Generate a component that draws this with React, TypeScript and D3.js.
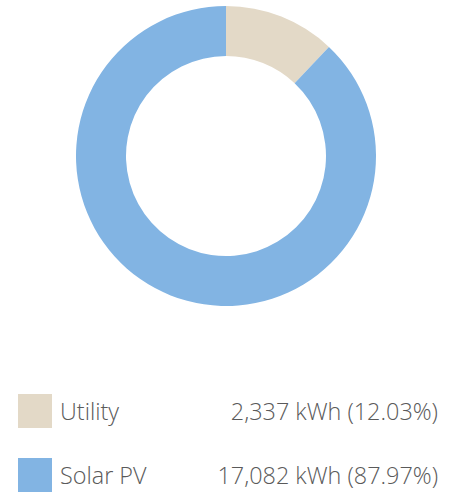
import React, { useRef, useEffect } from 'react';
import * as d3 from 'd3';

const sources = ['Utility', 'Solar PV'];
const energyKwh = [2337, 17082];
const percentLabels = ['12.03%', '87.97%'];
const colors = ['#e3d9c7', '#82b4e3'];

const width = 457;
const height = 493;

const App = () => {
  const svgRef = useRef<SVGSVGElement>(null);

  useEffect(() => {
    const svg = d3.select(svgRef.current);
    svg.selectAll('*').remove();

    const data = sources.map((s, i) => ({ name: s, value: energyKwh[i], pct: percentLabels[i], color: colors[i] }));

    const cx = 226;
    const cy = 156;
    const outer = 150;
    const inner = 100;

    const pie = d3.pie<any>().value(d => d.value).sort(null);
    const arc = d3.arc<any>().innerRadius(inner).outerRadius(outer);

    const g = svg.append('g').attr('transform', `translate(${cx}, ${cy})`);
    g.selectAll('path')
      .data(pie(data))
      .join('path')
      .attr('d', arc)
      .attr('fill', d => d.data.color);

    // legend
    const fmt = d3.format(',');
    const legend = svg.append('g');
    const rowY = d3.scaleLinear().domain([0, 1]).range([394, 458]);

    const rows = legend.selectAll('g')
      .data(data)
      .join('g')
      .attr('transform', (d, i) => `translate(0, ${rowY(i)})`);

    rows.append('rect')
      .attr('x', 18)
      .attr('width', 34)
      .attr('height', 34)
      .attr('fill', d => d.color);

    rows.append('text')
      .attr('x', 60)
      .attr('y', 26)
      .style('font-family', '"Open Sans", sans-serif')
      .style('font-weight', 300)
      .style('font-size', '23.4px')
      .attr('fill', '#5a5a5a')
      .text(d => d.name);

    rows.append('text')
      .attr('x', 438)
      .attr('y', 26)
      .attr('text-anchor', 'end')
      .style('font-family', '"Open Sans", sans-serif')
      .style('font-weight', 300)
      .style('font-size', '23.4px')
      .attr('fill', '#5a5a5a')
      .text(d => `${fmt(d.value)} kWh (${d.pct})`);
  }, []);

  return (
    <svg ref={svgRef} width={width} height={height}
      style={{ position: 'absolute', left: 0, top: 0 }}></svg>
  );
};

export default App;
